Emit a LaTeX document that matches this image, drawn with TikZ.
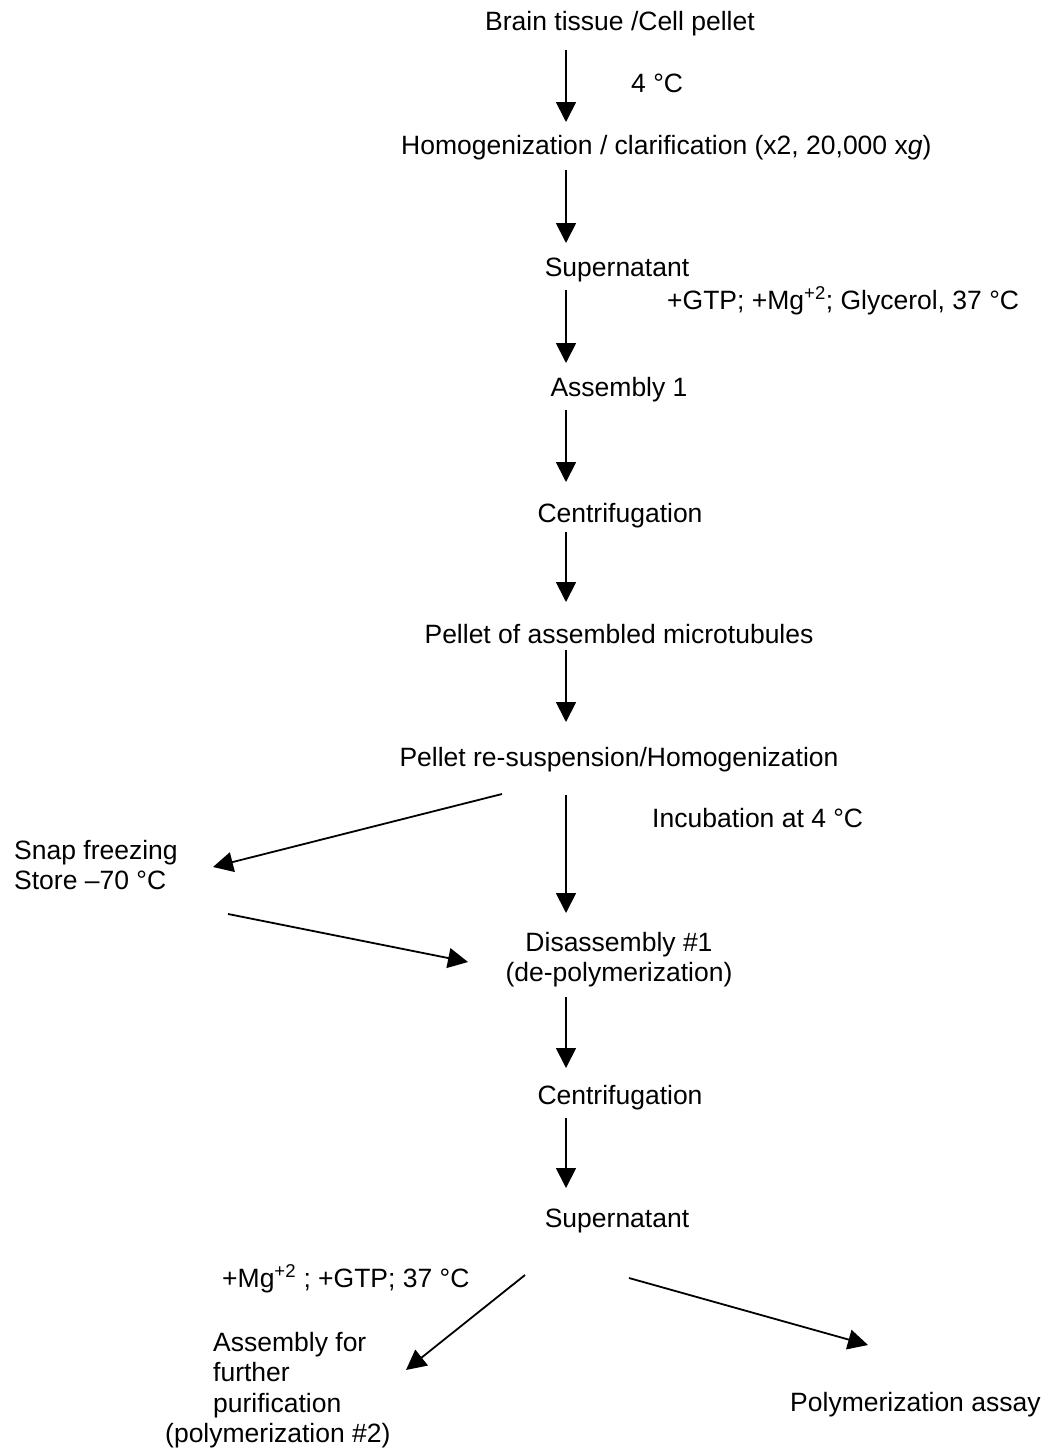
\documentclass[tikz,border=0pt]{standalone}
\usepackage{fontspec}
\setmainfont{Liberation Sans}
\usetikzlibrary{arrows.meta,calc}
\begin{document}
\begin{tikzpicture}[x=1pt,y=-1pt,
  lbl/.style={inner sep=0pt, font=\fontsize{26.5}{30.5}\selectfont},
  arr/.style={-{Triangle[length=20pt,width=20pt]}, line width=1.8pt}]
\useasboundingbox (0,0) rectangle (1045,1448);
\coordinate (ax) at (566,0);
% nodes
\node[lbl,anchor=base] (brain) at (620,30) {Brain tissue /Cell pellet};
\node[lbl,anchor=base west] (c4) at (631,92) {4 °C};
\node[lbl,anchor=base west] (homog) at (401,154) {Homogenization / clarification (x2, 20,000 x\textit{g})};
\node[lbl,anchor=base] (sup1) at (617,276) {Supernatant};
\node[lbl,anchor=base west] (gtp) at (667,309) {+GTP; +Mg\textsuperscript{+2}; Glycerol, 37 °C};
\node[lbl,anchor=base] (asm1) at (619,396) {Assembly 1};
\node[lbl,anchor=base] (cent1) at (620,522) {Centrifugation};
\node[lbl,anchor=base] (pellet) at (619,643) {Pellet of assembled microtubules};
\node[lbl,anchor=base] (resusp) at (619,766) {Pellet re-suspension/Homogenization};
\node[lbl,anchor=base west] (incub) at (652,827) {Incubation at 4 °C};
\node[lbl,anchor=north west,align=left] (snap) at (14,839.6) {Snap freezing\\Store –70 °C};
\node[lbl,anchor=north,align=center] (dis) at (619,931.6) {Disassembly \#1\\(de-polymerization)};
\node[lbl,anchor=base] (cent2) at (620,1104) {Centrifugation};
\node[lbl,anchor=base] (sup2) at (617,1227) {Supernatant};
\node[lbl,anchor=base west] (mg) at (222,1287) {+Mg\textsuperscript{+2} ; +GTP; 37 °C};
\node[lbl,anchor=north west,align=left] (asm2) at (165,1331.6) {\hspace*{48pt}Assembly for\\\hspace*{48pt}further\\\hspace*{48pt}purification\\(polymerization \#2)};
\node[lbl,anchor=base west] (assay) at (790,1411) {Polymerization assay};
% connectors
\draw[arr] ($(brain.base -| ax)+(0,20)$) -- ($(homog.base -| ax)+(0,-32)$);
\draw[arr] ($(homog.base -| ax)+(0,16)$) -- ($(sup1.base -| ax)+(0,-33)$);
\draw[arr] ($(sup1.base -| ax)+(0,14)$) -- ($(asm1.base -| ax)+(0,-33)$);
\draw[arr] ($(asm1.base -| ax)+(0,14)$) -- ($(cent1.base -| ax)+(0,-40)$);
\draw[arr] ($(cent1.base -| ax)+(0,10)$) -- ($(pellet.base -| ax)+(0,-41)$);
\draw[arr] ($(pellet.base -| ax)+(0,7)$) -- ($(resusp.base -| ax)+(0,-44)$);
\draw[arr] ($(resusp.base -| ax)+(0,29)$) -- ($(dis.north -| ax)+(0,-18.6)$);
\draw[arr] ($(dis.north -| ax)+(0,65.4)$) -- ($(cent2.base -| ax)+(0,-36)$);
\draw[arr] ($(cent2.base -| ax)+(0,14)$) -- ($(sup2.base -| ax)+(0,-39)$);
\draw[arr] ($(resusp.base)+(-117,28)$) -- ($(snap.north west)+(199,27.4)$);
\draw[arr] ($(snap.north west)+(214,74.4)$) -- ($(dis.north)+(-151,30.4)$);
\draw[arr] ($(sup2.base)+(-92,48)$) -- ($(asm2.north west)+(241,38.4)$);
\draw[arr] ($(sup2.base)+(12,51)$) -- ($(assay.base west)+(78,-66)$);
\end{tikzpicture}
\end{document}
